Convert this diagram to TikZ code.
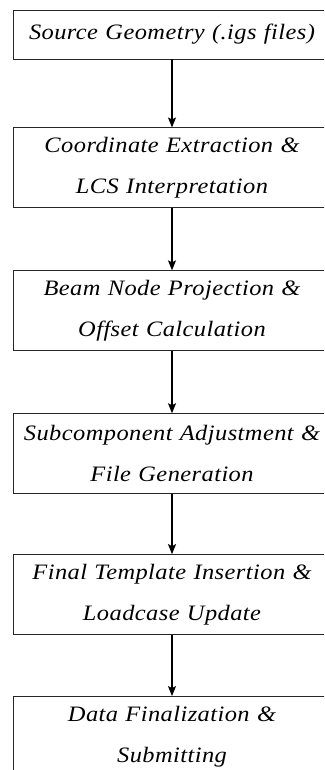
\documentclass[tikz,border=0pt]{standalone}
\usepackage{fontspec}
\setmainfont{Liberation Serif}[FakeStretch=1.11, LetterSpace=2]
\usetikzlibrary{arrows.meta, positioning}
\tikzset{
    base/.style = {rectangle, draw=black!85, line width=0.9pt, minimum width=318pt, text width=316pt, align=center, inner sep=0pt, font=\fontsize{22}{41}\selectfont\itshape},
    oneline/.style = {base, minimum height=49pt},
    twoline/.style = {base, minimum height=80pt},
    arrow/.style = {line width=1.2pt, -{Stealth[length=10pt, width=8pt, inset=2pt]}, draw=black}
}

\begin{document}
\begin{tikzpicture}[x=1pt, y=1pt, node distance=62pt]
        \useasboundingbox (0,0) rectangle (324,-770);
        \clip (0,0) rectangle (324,-770);

        % Stage 1: Input geometry
        \node (source) [oneline] at (172,-34.5) {Source Geometry (.igs files)};

        % Stage 2: Coordinates
        \node (extract) [twoline, below=68pt of source] {Coordinate Extraction \&\\LCS Interpretation};

        % Stage 3: Beam nodes
        \node (project) [twoline, below=of extract] {Beam Node Projection \&\\Offset Calculation};

        % Stage 4: Subcomponents
        \node (adjust) [twoline, below=of project] {Subcomponent Adjustment \&\\File Generation};

        % Stage 5: Template
        \node (insert) [twoline, below=60pt of adjust] {Final Template Insertion \&\\Loadcase Update};

        % Stage 6: Output (cut at the bottom)
        \node (finalize) [twoline, below=61pt of insert] {Data Finalization \&\\Submitting};

        % ARROWS
        \draw [arrow] (source) -- (extract);
        \draw [arrow] (extract) -- (project);
        \draw [arrow] (project) -- (adjust);
        \draw [arrow] (adjust) -- (insert);
        \draw [arrow] (insert) -- (finalize);
    \end{tikzpicture}
\end{document}
